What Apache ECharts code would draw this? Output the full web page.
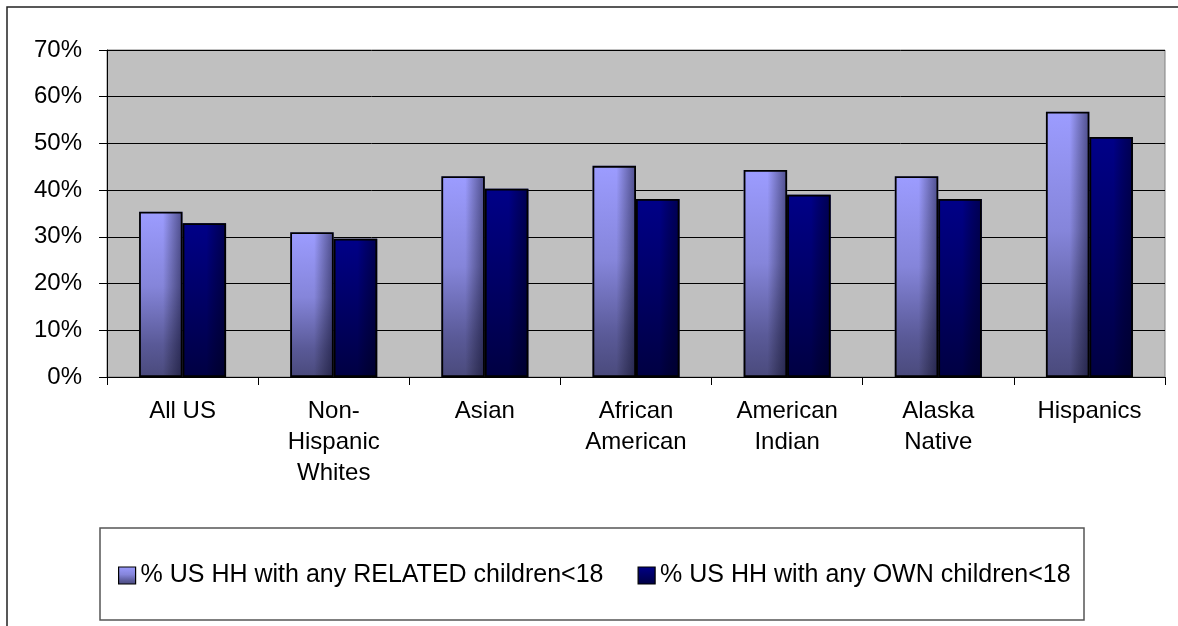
<!DOCTYPE html>
<html>
<head>
<meta charset="utf-8">
<script src="https://cdn.jsdelivr.net/npm/echarts@6/dist/echarts.min.js"></script>
<style>
  html, body { margin: 0; padding: 0; background: #fff; }
  #chart { width: 1178px; height: 626px; }
</style>
</head>
<body>
<div id="chart"></div>
<script>
// categories on the x axis
const categories = ['All US', 'Non-\nHispanic\nWhites', 'Asian', 'African\nAmerican', 'American\nIndian', 'Alaska\nNative', 'Hispanics'];
// % of US households
const relatedChildren = [35.4, 31.0, 43.0, 45.2, 44.3, 43.0, 56.8];
const ownChildren = [32.9, 29.6, 40.3, 38.1, 39.0, 38.1, 51.4];
const seriesNames = ['% US HH with any RELATED children<18', '% US HH with any OWN children<18'];
const yTicks = [0, 10, 20, 30, 40, 50, 60, 70];

const FONT = "'Liberation Sans', Arial, sans-serif";

const chart = echarts.init(document.getElementById('chart'), null, { renderer: 'canvas' });

function vGrad(stops) {
  return new echarts.graphic.LinearGradient(0, 0, 0, 1, stops);
}
// darker strip on the right side of every bar
const shade = new echarts.graphic.LinearGradient(0, 0, 1, 0, [
  { offset: 0, color: 'rgba(0,0,0,0)' },
  { offset: 0.55, color: 'rgba(0,0,0,0)' },
  { offset: 1, color: 'rgba(0,0,30,0.5)' }
]);

const relatedColor = vGrad([
  { offset: 0, color: '#9c9cff' },
  { offset: 0.45, color: '#8585da' },
  { offset: 0.8, color: '#5a5a98' },
  { offset: 1, color: '#4a4a7c' }
]);
const ownColor = vGrad([
  { offset: 0, color: '#000088' },
  { offset: 1, color: '#000042' }
]);

const xAxisBase = {
  type: 'category',
  data: categories,
  boundaryGap: true
};

const option = {
  animation: false,
  grid: {
    left: 107, right: 13, top: 50, bottom: 249,
    show: true,
    backgroundColor: '#c0c0c0',
    borderColor: '#808080',
    borderWidth: 1
  },
  graphic: [
    {
      type: 'rect', silent: true, z: 100,
      shape: { x: 7, y: 7, width: 1200, height: 700 },
      style: { fill: 'none', stroke: '#222', lineWidth: 1.5 }
    },
    {
      type: 'rect', silent: true, z: 100,
      shape: { x: 100, y: 528, width: 984, height: 92 },
      style: { fill: 'none', stroke: '#555', lineWidth: 1.5 }
    }
  ],
  legend: {
    data: seriesNames,
    left: 118,
    top: 563,
    padding: 0,
    itemWidth: 17,
    itemHeight: 17,
    itemGap: 34,
    icon: 'rect',
    itemStyle: { borderColor: '#000', borderWidth: 1.2 },
    textStyle: { fontFamily: FONT, fontSize: 25, color: '#000' }
  },
  xAxis: [
    Object.assign({}, xAxisBase, {
      axisLine: { lineStyle: { color: '#000', width: 1 } },
      axisTick: { show: true, length: 8, lineStyle: { color: '#000' } },
      axisLabel: {
        interval: 0, margin: 19, fontFamily: FONT, fontSize: 24,
        color: '#000', lineHeight: 31
      }
    }),
    Object.assign({}, xAxisBase, {
      position: 'bottom', show: false
    })
  ],
  yAxis: {
    type: 'value',
    min: yTicks[0],
    max: yTicks[yTicks.length - 1],
    interval: 10,
    axisLine: { show: true, lineStyle: { color: '#000', width: 1 } },
    axisTick: { show: true, length: 8, lineStyle: { color: '#000' } },
    axisLabel: {
      margin: 25, fontFamily: FONT, fontSize: 24, color: '#000',
      formatter: '{value}%'
    },
    splitLine: { show: true, lineStyle: { color: '#000', width: 1 } }
  },
  series: [
    {
      name: seriesNames[0], type: 'bar', xAxisIndex: 0,
      data: relatedChildren, barWidth: 43.5, barGap: '0%',
      itemStyle: { color: relatedColor }
    },
    {
      name: seriesNames[1], type: 'bar', xAxisIndex: 0,
      data: ownChildren, barWidth: 43.5, barGap: '0%',
      itemStyle: { color: ownColor }
    },
    {
      name: 'related-shade', type: 'bar', xAxisIndex: 1,
      data: relatedChildren, barWidth: 43.5, barGap: '0%', z: 3,
      itemStyle: { color: shade, borderColor: '#000', borderWidth: 1.8 }
    },
    {
      name: 'own-shade', type: 'bar', xAxisIndex: 1,
      data: ownChildren, barWidth: 43.5, barGap: '0%', z: 3,
      itemStyle: { color: shade, borderColor: '#000', borderWidth: 1.8 }
    }
  ]
};

chart.setOption(option);
</script>
</body>
</html>
